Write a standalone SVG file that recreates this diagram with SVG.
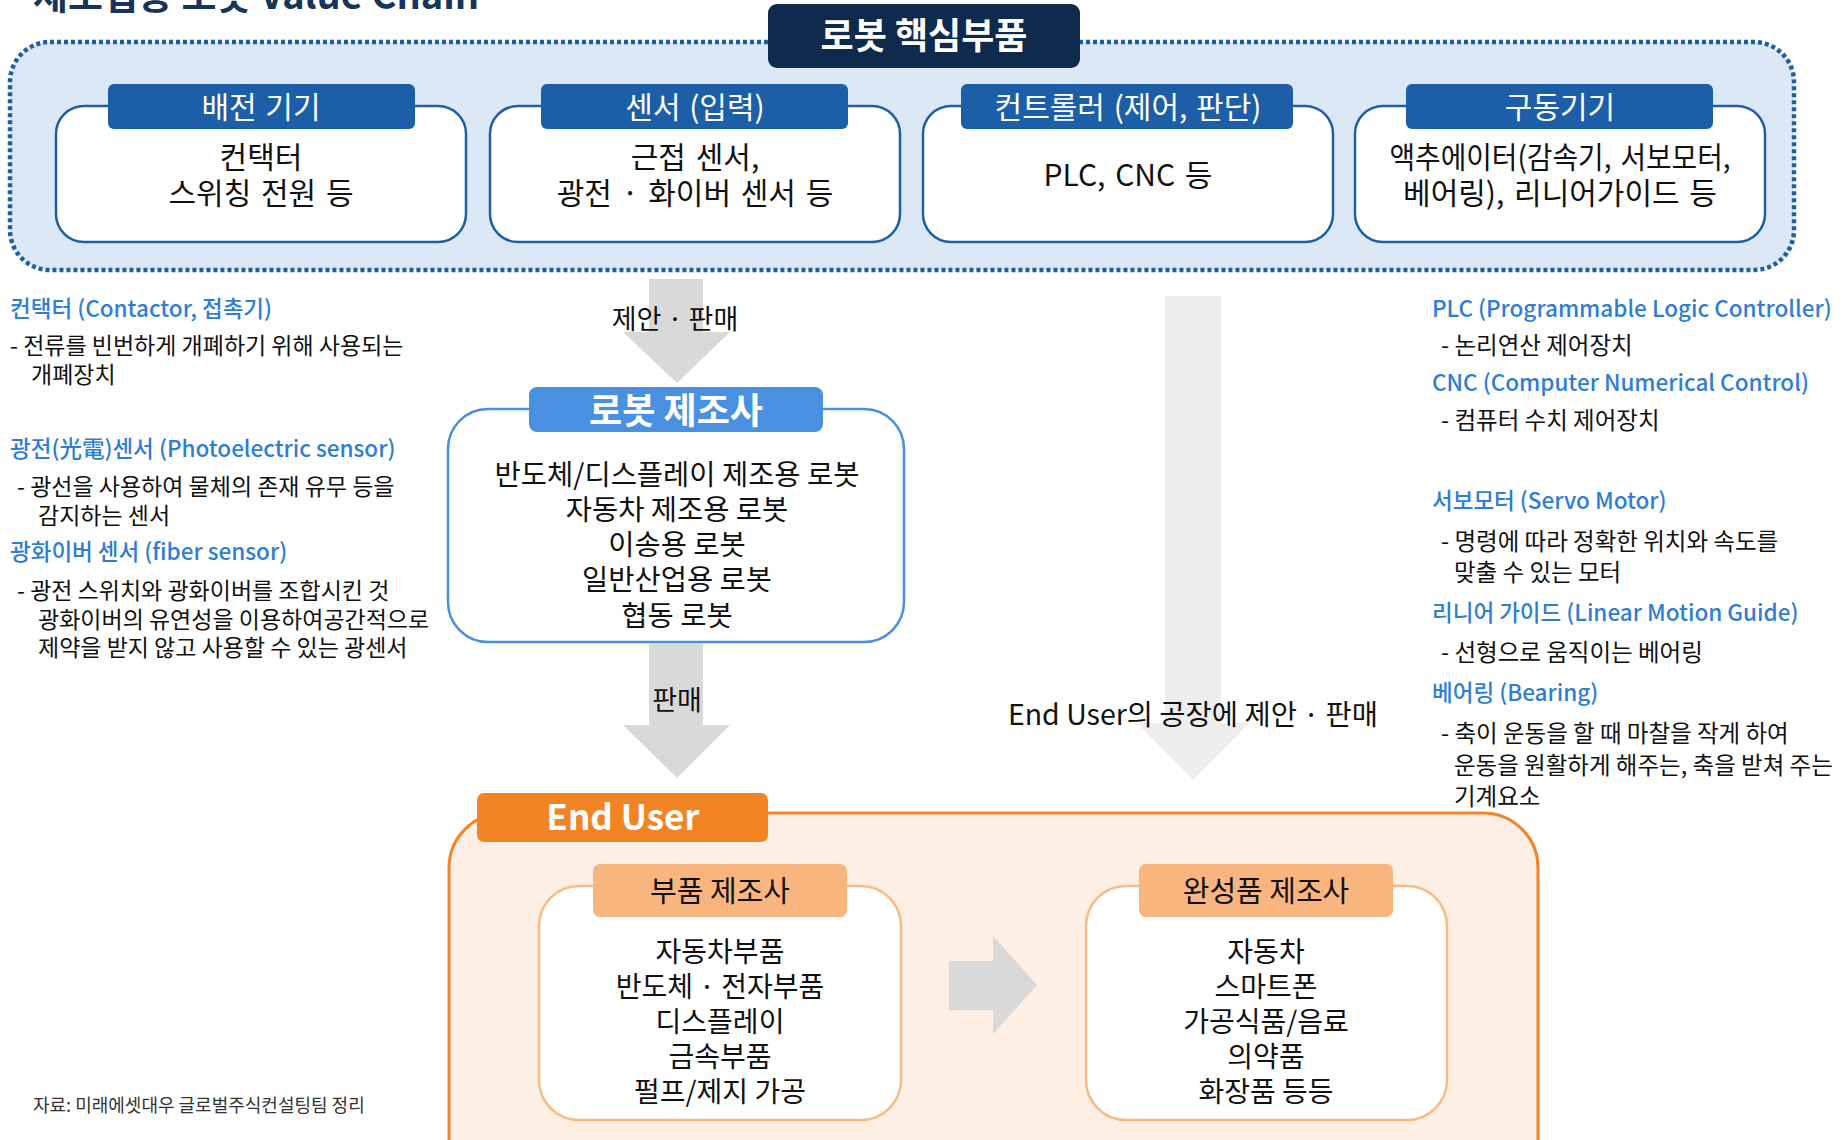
<svg xmlns="http://www.w3.org/2000/svg" width="1845" height="1140" viewBox="0 0 1845 1140">
<style>
text{font-family:"Noto Sans CJK KR","Noto Sans",sans-serif;}
.t-title{font-size:38px;font-weight:700;fill:#17345a;}
.hdr{font-size:36px;font-weight:700;fill:#fff;text-anchor:middle;}
.tab{font-size:30px;fill:#fff;text-anchor:middle;word-spacing:2px;}
.body{font-size:30px;fill:#111;text-anchor:middle;word-spacing:3px;}
.rbody{font-size:28.5px;fill:#111;text-anchor:middle;}
.ann-h{font-size:22.5px;font-weight:500;fill:#2e7dd6;}
.ann{font-size:23.5px;fill:#111;}
.annl{font-size:23px;fill:#111;}
.lbl{font-size:27px;fill:#111;text-anchor:middle;}
.src{font-size:18px;fill:#333;}
.cbox{fill:#fff;stroke:#1d5ea8;stroke-width:2.5;}
.ctab{fill:#1d5ea8;}
.obox{fill:#fff;stroke:#f9bb86;stroke-width:2.5;}
.otab{fill:#f8b57d;}
.otxt{font-size:28px;fill:#111;text-anchor:middle;}
.ohdr{font-size:29px;fill:#111;text-anchor:middle;}
</style>

<text class="t-title" x="33" y="9">제조업용 로봇 Value Chain</text>

<g id="core-parts">
  <rect x="10" y="42" width="1784" height="228" rx="40" fill="#dce8f6" stroke="#1d5ea8" stroke-width="4.5" stroke-dasharray="4 3"/>
  <rect x="768" y="4" width="312" height="64" rx="9" fill="#0e2a4d"/>
  <text class="hdr" x="924" y="49">로봇 핵심부품</text>
</g>

<g id="node-distribution">
  <rect class="cbox" x="56" y="106" width="410" height="136" rx="28"/>
  <rect class="ctab" x="108" y="84" width="307" height="45" rx="6"/>
  <text class="tab" x="261" y="118">배전 기기</text>
  <text class="body" x="261" y="168">컨택터</text>
  <text class="body" x="261" y="204">스위칭 전원 등</text>
</g>

<g id="node-sensor">
  <rect class="cbox" x="490" y="106" width="410" height="136" rx="28"/>
  <rect class="ctab" x="541" y="84" width="307" height="45" rx="6"/>
  <text class="tab" x="695" y="118">센서 (입력)</text>
  <text class="body" x="695" y="168">근접 센서,</text>
  <text class="body" x="695" y="204">광전 · 화이버 센서 등</text>
</g>

<g id="node-controller">
  <rect class="cbox" x="923" y="106" width="410" height="136" rx="28"/>
  <rect class="ctab" x="961" y="84" width="332" height="45" rx="6"/>
  <text class="tab" x="1128" y="118">컨트롤러 (제어, 판단)</text>
  <text class="body" x="1128" y="186">PLC, CNC 등</text>
</g>

<g id="node-drive">
  <rect class="cbox" x="1355" y="106" width="410" height="136" rx="28"/>
  <rect class="ctab" x="1406" y="84" width="307" height="45" rx="6"/>
  <text class="tab" x="1560" y="118">구동기기</text>
  <text class="body" x="1560" y="168" textLength="341" lengthAdjust="spacingAndGlyphs">액추에이터(감속기, 서보모터,</text>
  <text class="body" x="1560" y="204">베어링), 리니어가이드 등</text>
</g>

<g id="notes-left">
  <text class="ann-h" x="10" y="317">컨택터 (Contactor, 접촉기)</text>
  <text class="annl" x="10" y="354">- 전류를 빈번하게 개폐하기 위해 사용되는</text>
  <text class="annl" x="31" y="383">개폐장치</text>
  <text class="ann-h" x="10" y="457">광전(光電)센서 (Photoelectric sensor)</text>
  <text class="annl" x="17" y="495">- 광선을 사용하여 물체의 존재 유무 등을</text>
  <text class="annl" x="38" y="524">감지하는 센서</text>
  <text class="ann-h" x="10" y="560">광화이버 센서  (fiber sensor)</text>
  <text class="annl" x="17" y="599">- 광전 스위치와 광화이버를 조합시킨 것</text>
  <text class="annl" x="38" y="628">광화이버의 유연성을 이용하여공간적으로</text>
  <text class="annl" x="38" y="656">제약을 받지 않고 사용할 수 있는 광센서</text>
</g>

<g id="notes-right">
  <text class="ann-h" x="1432" y="317">PLC (Programmable Logic Controller)</text>
  <text class="ann" x="1441" y="354">- 논리연산 제어장치</text>
  <text class="ann-h" x="1432" y="391">CNC (Computer Numerical Control)</text>
  <text class="ann" x="1441" y="429">- 컴퓨터 수치 제어장치</text>
  <text class="ann-h" x="1432" y="509">서보모터 (Servo Motor)</text>
  <text class="ann" x="1441" y="550">- 명령에 따라 정확한 위치와 속도를</text>
  <text class="ann" x="1454" y="581">맞출 수 있는 모터</text>
  <text class="ann-h" x="1432" y="621">리니어 가이드 (Linear Motion Guide)</text>
  <text class="ann" x="1441" y="661">- 선형으로 움직이는 베어링</text>
  <text class="ann-h" x="1432" y="701">베어링 (Bearing)</text>
  <text class="ann" x="1441" y="742">- 축이 운동을 할 때 마찰을 작게 하여</text>
  <text class="ann" x="1454" y="774">운동을 원활하게 해주는, 축을 받쳐 주는</text>
  <text class="ann" x="1454" y="805">기계요소</text>
</g>

<g id="node-robot-maker">
  <rect x="448" y="409" width="456" height="233" rx="40" fill="#fff" stroke="#4a8fdf" stroke-width="2.5"/>
  <rect x="529" y="387" width="294" height="45" rx="8" fill="#4a90e0"/>
  <text class="hdr" x="676" y="424">로봇 제조사</text>
  <text class="rbody" x="677" y="485">반도체/디스플레이 제조용 로봇</text>
  <text class="rbody" x="677" y="520">자동차 제조용 로봇</text>
  <text class="rbody" x="677" y="555">이송용 로봇</text>
  <text class="rbody" x="677" y="590">일반산업용 로봇</text>
  <text class="rbody" x="677" y="626">협동 로봇</text>
</g>

<g id="node-end-user">
  <rect x="449" y="813" width="1089" height="420" rx="55" fill="#fdefe4" stroke="#f4842a" stroke-width="3"/>
  <rect x="477" y="793" width="291" height="49" rx="7" fill="#f38423"/>
  <text x="623" y="830" font-size="35" font-weight="700" fill="#fff" text-anchor="middle">End User</text>
</g>

<g id="node-parts-maker">
  <rect class="obox" x="539" y="886" width="362" height="234" rx="40"/>
  <rect class="otab" x="593" y="864" width="254" height="53" rx="7"/>
  <text class="ohdr" x="720" y="902">부품 제조사</text>
  <text class="otxt" x="720" y="962">자동차부품</text>
  <text class="otxt" x="720" y="997">반도체 · 전자부품</text>
  <text class="otxt" x="720" y="1032">디스플레이</text>
  <text class="otxt" x="720" y="1067">금속부품</text>
  <text class="otxt" x="720" y="1102">펄프/제지 가공</text>
</g>

<g id="node-product-maker">
  <rect class="obox" x="1086" y="886" width="361" height="234" rx="40"/>
  <rect class="otab" x="1139" y="864" width="254" height="53" rx="7"/>
  <text class="ohdr" x="1266" y="902">완성품 제조사</text>
  <text class="otxt" x="1266" y="962">자동차</text>
  <text class="otxt" x="1266" y="997">스마트폰</text>
  <text class="otxt" x="1266" y="1032">가공식품/음료</text>
  <text class="otxt" x="1266" y="1067">의약품</text>
  <text class="otxt" x="1266" y="1102">화장품 등등</text>
</g>

<g id="connectors">
  <polygon points="649,279 703,279 703,332 730,332 677,383 623,332 649,332" fill="#d9d9d9"/>
  <text class="lbl" x="675" y="329">제안 · 판매</text>
  <polygon points="649,643 703,643 703,725 730,725 677,778 623,725 649,725" fill="#d9d9d9"/>
  <text class="lbl" x="677" y="710">판매</text>
  <polygon points="1165,296 1221,296 1221,723 1249,723 1193,780 1137,723 1165,723" fill="#ededed"/>
  <text class="lbl" x="1193" y="725" style="font-size:28.5px">End User의 공장에 제안 · 판매</text>
  <polygon points="949,961 993,961 993,936 1037,985 993,1034 993,1010 949,1010" fill="#d9d9d9"/>
</g>

<text class="src" x="33" y="1112">자료: 미래에셋대우 글로벌주식컨설팅팀 정리</text>
</svg>
